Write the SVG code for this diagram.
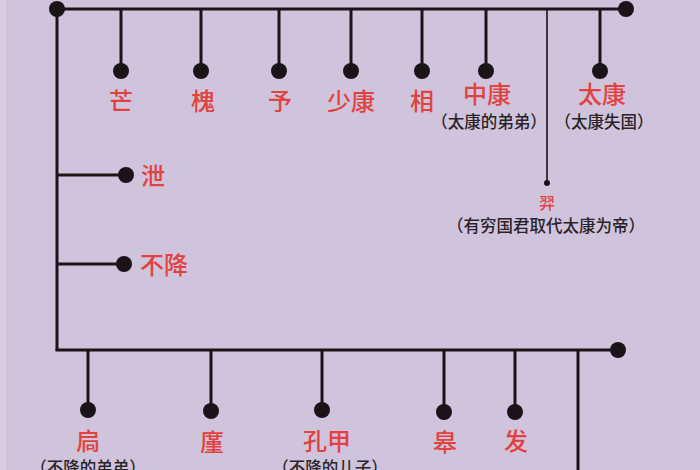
<svg xmlns="http://www.w3.org/2000/svg" width="700" height="470" viewBox="0 0 700 470">
<style>
.ln{stroke:#1a1418;stroke-width:3;fill:none}
.thin{stroke:#1a1418;stroke-width:1.6;fill:none}
.dot{fill:#1a1418}
.nm{font-family:"Noto Sans CJK SC","Noto Sans",sans-serif;font-size:24px;font-weight:500;fill:#e2423f;text-anchor:middle}
.sm{font-family:"Noto Sans CJK SC","Noto Sans",sans-serif;font-size:16.5px;font-weight:500;fill:#2a2428;text-anchor:middle}
.nm2{font-family:"Noto Sans CJK SC","Noto Sans",sans-serif;font-size:16px;font-weight:500;fill:#e2423f;text-anchor:middle}
</style>
<rect width="700" height="470" fill="#d0c4dc"/>
<rect x="0" y="0" width="6" height="470" fill="#d8cee2"/>
<g id="connectors">
<line class="ln" x1="57" y1="9" x2="626" y2="9"/>
<line class="ln" x1="57" y1="9" x2="57" y2="351"/>
<line class="ln" x1="55.5" y1="350" x2="618" y2="350"/>
<line class="ln" x1="121" y1="9" x2="121" y2="71"/>
<line class="ln" x1="201" y1="9" x2="201" y2="71"/>
<line class="ln" x1="279" y1="9" x2="279" y2="71"/>
<line class="ln" x1="351" y1="9" x2="351" y2="71"/>
<line class="ln" x1="422" y1="9" x2="422" y2="71"/>
<line class="ln" x1="486" y1="9" x2="486" y2="71"/>
<line class="ln" x1="600" y1="9" x2="600" y2="71"/>
<line class="thin" x1="547" y1="9" x2="547" y2="183"/>
<line class="ln" x1="57" y1="175" x2="126" y2="175"/>
<line class="ln" x1="57" y1="264" x2="124" y2="264"/>
<line class="ln" x1="88" y1="350" x2="88" y2="410"/>
<line class="ln" x1="211" y1="350" x2="211" y2="411"/>
<line class="ln" x1="322" y1="350" x2="322" y2="410"/>
<line class="ln" x1="444" y1="350" x2="444" y2="412"/>
<line class="ln" x1="515" y1="350" x2="515" y2="412"/>
<line class="ln" x1="578" y1="350" x2="578" y2="470"/>
</g>
<g id="root"><circle class="dot" cx="57" cy="9" r="8"/></g>
<g id="end-top"><circle class="dot" cx="626" cy="9" r="8"/></g>
<g id="end-bottom"><circle class="dot" cx="618" cy="350" r="8"/></g>
<g id="mang"><circle class="dot" cx="121" cy="71" r="8"/><text class="nm" x="121" y="110">芒</text></g>
<g id="huai"><circle class="dot" cx="201" cy="71" r="8"/><text class="nm" x="203" y="110">槐</text></g>
<g id="yu"><circle class="dot" cx="279" cy="71" r="8"/><text class="nm" x="280" y="110">予</text></g>
<g id="shaokang"><circle class="dot" cx="351" cy="71" r="8"/><text class="nm" x="351" y="110">少康</text></g>
<g id="xiang"><circle class="dot" cx="422" cy="71" r="8"/><text class="nm" x="422" y="110">相</text></g>
<g id="zhongkang"><circle class="dot" cx="486" cy="71" r="8"/><text class="nm" x="487" y="103">中康</text><text class="sm" x="489" y="128">（太康的弟弟）</text></g>
<g id="taikang"><circle class="dot" cx="600" cy="71" r="8"/><text class="nm" x="602" y="103">太康</text><text class="sm" x="604" y="128">（太康失国）</text></g>
<g id="yi"><circle class="dot" cx="547" cy="183" r="3"/><text class="nm2" x="547" y="209">羿</text><text class="sm" x="546" y="232">（有穷国君取代太康为帝）</text></g>
<g id="xie"><circle class="dot" cx="126" cy="175" r="8"/><text class="nm" x="153" y="185">泄</text></g>
<g id="bujiang"><circle class="dot" cx="124" cy="264" r="8"/><text class="nm" x="164" y="274">不降</text></g>
<g id="jiong"><circle class="dot" cx="88" cy="410" r="8"/><text class="nm" x="88" y="450">扃</text><text class="sm" x="88" y="474">（不降的弟弟）</text></g>
<g id="jin"><circle class="dot" cx="211" cy="411" r="8"/><text class="nm" x="212" y="451">廑</text></g>
<g id="kongjia"><circle class="dot" cx="322" cy="410" r="8"/><text class="nm" x="327" y="450">孔甲</text><text class="sm" x="330" y="474">（不降的儿子）</text></g>
<g id="gao"><circle class="dot" cx="444" cy="412" r="8"/><text class="nm" x="445" y="451">皋</text></g>
<g id="fa"><circle class="dot" cx="515" cy="412" r="8"/><text class="nm" x="516" y="450">发</text></g>
</svg>
